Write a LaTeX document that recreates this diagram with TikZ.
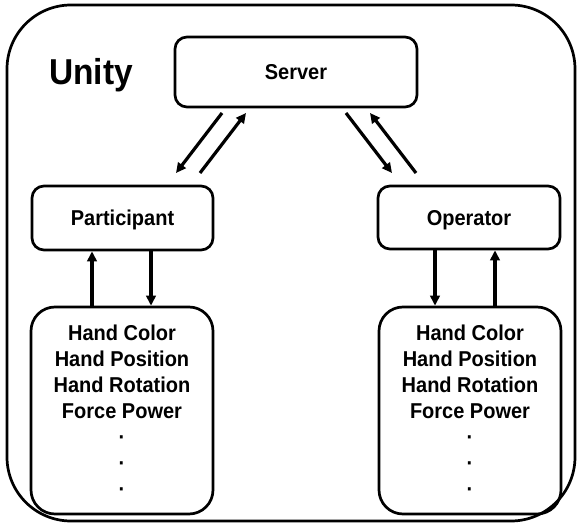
\documentclass[tikz,border=0pt]{standalone}
\usepackage{fontspec}
\setmainfont{Liberation Sans}[FakeStretch=0.93]
\usetikzlibrary{arrows.meta}
\begin{document}
\begin{tikzpicture}[x=1pt,y=-1pt,
  outer/.style={draw, line width=2.7pt, rounded corners=64pt},
  box/.style={draw, line width=2.7pt, rounded corners=12pt, inner sep=0pt,
    font=\bfseries\fontsize{21.5}{24}\selectfont, text height=15pt, text depth=0pt},
  listbox/.style={draw, line width=2.7pt, rounded corners=24pt, inner sep=0pt,
    align=center, minimum width=182pt, minimum height=207pt,
    font=\bfseries\fontsize{21.5}{26}\selectfont},
  arr/.style={line width=3.2pt, -{Triangle[length=10pt,width=9.5pt]}}]
\useasboundingbox (0,0) rectangle (578,524);
\node[outer, minimum width=568pt, minimum height=516pt] (unitybox) at (291,263) {};
\node[font=\bfseries\fontsize{36}{40}\selectfont, anchor=base] (unity) at (91,85) {Unity};
\node[box, minimum width=242pt, minimum height=70pt] (server) at (296,72) {Server};
\node[box, minimum width=181pt, minimum height=64pt] (part) at (122.5,218) {Participant};
\node[box, minimum width=182pt, minimum height=63pt] (oper) at (469,217.5) {Operator};
\node[listbox] (lbox) at (122,410.5) {Hand Color\\Hand Position\\Hand Rotation\\Force Power\\·\\·\\·};
\node[listbox] (rbox) at (470,410.5) {Hand Color\\Hand Position\\Hand Rotation\\Force Power\\·\\·\\·};
% diagonal arrow end points
\coordinate (a1) at (222,113); \coordinate (a2) at (176,173);
\coordinate (b1) at (200,173); \coordinate (b2) at (246,113);
\coordinate (c1) at (346,113); \coordinate (c2) at (392,173);
\coordinate (d1) at (416,173); \coordinate (d2) at (370,113);
\draw[arr] (a1) -- (a2);
\draw[arr] (b1) -- (b2);
\draw[arr] (c1) -- (c2);
\draw[arr] (d1) -- (d2);
% vertical arrows
\coordinate (lu) at (92,0); \coordinate (ld) at (151,0);
\coordinate (rd) at (435,0); \coordinate (ru) at (495,0);
\draw[arr] (lbox.north -| lu) -- (part.south -| lu);
\draw[arr] (part.south -| ld) -- (lbox.north -| ld);
\draw[arr] (oper.south -| rd) -- (rbox.north -| rd);
\draw[arr] (rbox.north -| ru) -- (oper.south -| ru);
\end{tikzpicture}
\end{document}
